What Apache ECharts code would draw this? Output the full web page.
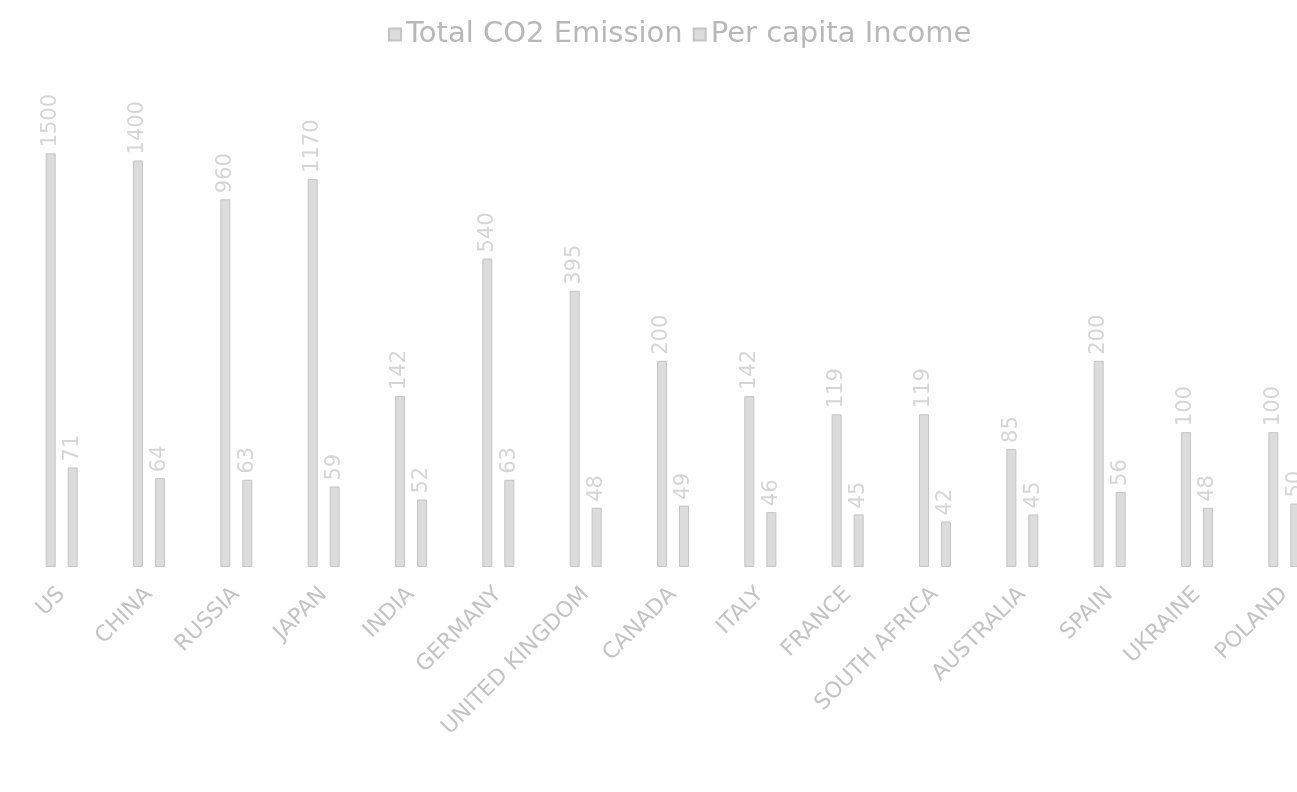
<!DOCTYPE html>
<html>
<head>
<meta charset="utf-8">
<script src="https://cdn.jsdelivr.net/npm/echarts@6/dist/echarts.min.js"></script>
<style>
html,body{margin:0;padding:0;background:#fff;}
#chart{width:1297px;height:792px;}
</style>
</head>
<body>
<div id="chart"></div>
<script>
const countries = ['US','CHINA','RUSSIA','JAPAN','INDIA','GERMANY','UNITED KINGDOM','CANADA','ITALY','FRANCE','SOUTH AFRICA','AUSTRALIA','SPAIN','UKRAINE','POLAND'];
const totalCO2 = [1500,1400,960,1170,142,540,395,200,142,119,119,85,200,100,100];
const perCapitaIncome = [71,64,63,59,52,63,48,49,46,45,42,45,56,48,50];
const seriesNames = ['Total CO2 Emission','Per capita Income'];

const chart = echarts.init(document.getElementById('chart'));
const labelCfg = {
  show: true, position: 'top', rotate: 90, align: 'left', verticalAlign: 'middle',
  distance: 6, color: '#d6d6d6', fontSize: 21, fontFamily: 'DejaVu Sans'
};
const barStyle = { color: '#dcdcdc', borderColor: '#c4c4c4', borderWidth: 1 };
chart.setOption({
  animation: false,
  backgroundColor: '#ffffff',
  legend: {
    top: 15, left: 383, itemWidth: 12, itemHeight: 12, itemGap: 10,
    icon: 'rect',
    textStyle: { fontSize: 29, color: '#b8b8b8', fontFamily: 'DejaVu Sans' },
    data: seriesNames
  },
  grid: { left: 18, width: 1310, top: 82, bottom: 225, containLabel: false, outerBoundsMode: 'none' },
  xAxis: {
    type: 'category', data: countries,
    axisLine: { show: false }, axisTick: { show: false },
    axisLabel: { rotate: 45, margin: 24, fontSize: 22, color: '#c4c4c4', fontFamily: 'DejaVu Sans', interval: 0 }
  },
  yAxis: {
    type: 'log', logBase: 10, min: 27, max: 3000, startValue: 27, show: false,
    splitLine: { show: false }
  },
  series: [
    { name: seriesNames[0], type: 'bar', data: totalCO2, barWidth: 10, barGap: '120%', clip: true, itemStyle: barStyle, label: labelCfg },
    { name: seriesNames[1], type: 'bar', data: perCapitaIncome, barWidth: 10, barGap: '120%', clip: true, itemStyle: barStyle, label: labelCfg }
  ]
});
</script>
</body>
</html>
